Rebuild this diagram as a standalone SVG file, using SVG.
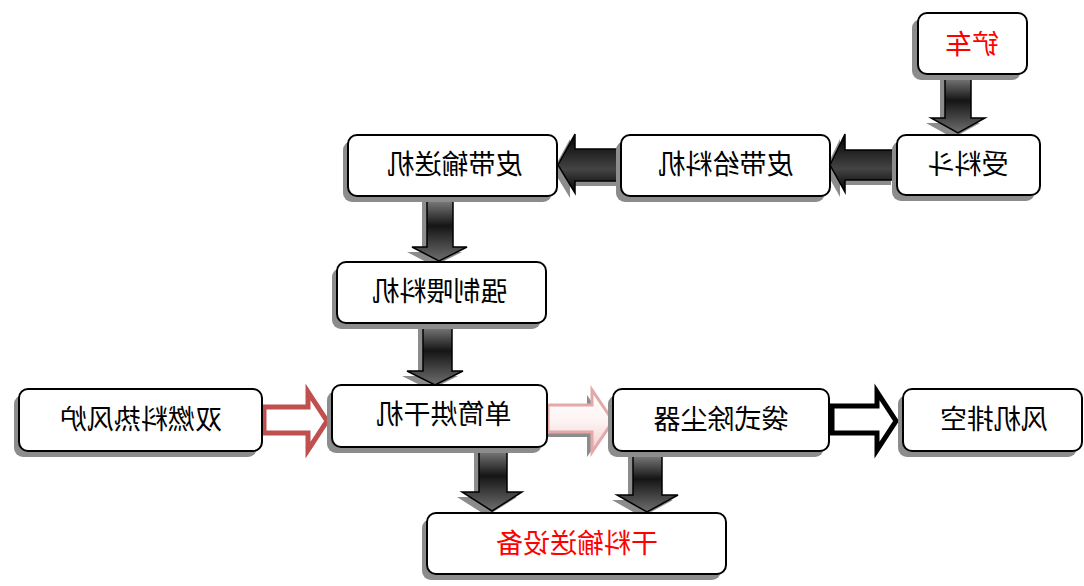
<svg xmlns="http://www.w3.org/2000/svg" width="1084" height="586" viewBox="0 0 1084 586">
<defs>
<linearGradient id="gv" x1="0" y1="0" x2="0" y2="1">
<stop offset="0" stop-color="#8a8a8a"/><stop offset="0.45" stop-color="#151515"/><stop offset="1" stop-color="#6e6e6e"/>
</linearGradient>
<linearGradient id="gh" x1="0" y1="0" x2="0" y2="1">
<stop offset="0" stop-color="#000"/><stop offset="0.6" stop-color="#444"/><stop offset="1" stop-color="#000"/>
</linearGradient>
<linearGradient id="gp" x1="0" y1="0" x2="0" y2="1">
<stop offset="0" stop-color="#fff"/><stop offset="0.5" stop-color="#fdf3f3"/><stop offset="1" stop-color="#f0cccc"/>
</linearGradient>
</defs>
<style>
.sh{fill:#8c8c8c}
.bx{fill:#fff;stroke:#000;stroke-width:2}
.t{font-family:"Noto Sans CJK SC","Noto Sans CJK JP",sans-serif;font-size:27px;text-anchor:middle;fill:#000}
.r{fill:#ff0000}
.av{fill:url(#gv);stroke:#000;stroke-width:1.5}
.ah{fill:url(#gh);stroke:#000;stroke-width:1.5}
</style>
<rect width="1084" height="586" fill="#fff"/>
<g id="connectors">
<path class="sh" d="M940,79 H966 V123 H980 L953,138 L926,123 H940 Z"/>
<path class="sh" d="M422,202 H448 V252 H462 L434,266 L407,252 H422 Z"/>
<path class="sh" d="M418,328 H447 V376 H458 L430,390 L402,376 H418 Z"/>
<path class="sh" d="M474,452 H502 V497 H517 L487,516 L457,497 H474 Z"/>
<path class="sh" d="M628,457 H657 V500 H673 L642,517 L612,500 H628 Z"/>
<path class="sh" d="M891,155 H840 V139 L825,170 L840,197 V185 H891 Z"/>
<path class="sh" d="M617,154 H570 V139 L553,170 L570,198 V186 H617 Z"/>
<path class="sh" d="M543,410 H587 V395 L608,426 L587,457 V437 H543 Z"/>
<path class="av" d="M945,74 H971 V118 H985 L958,133 L931,118 H945 Z"/>
<path class="ah" d="M896,150 H845 V134 L830,165 L845,192 V180 H896 Z"/>
<path class="ah" d="M622,149 H575 V134 L558,165 L575,193 V181 H622 Z"/>
<path class="av" d="M427,197 H453 V247 H467 L439,261 L412,247 H427 Z"/>
<path class="av" d="M423,323 H452 V371 H463 L435,385 L407,371 H423 Z"/>
<path class="av" d="M479,447 H507 V492 H522 L492,511 L462,492 H479 Z"/>
<path class="av" d="M633,452 H662 V495 H678 L647,512 L617,495 H633 Z"/>
<path d="M264,407 H308 V392 L327,421 L308,450 V433 H264 Z" fill="#fff" stroke="#C0504D" stroke-width="5"/>
<path d="M548,405 H592 V390 L613,421 L592,452 V432 H548 Z" fill="url(#gp)" stroke="#E3A9A8" stroke-width="3"/>
<path d="M832,406 H877 V392 L896,421 L877,450 V433 H832 Z" fill="#fff" stroke="#000" stroke-width="5"/>
</g>
<g id="n1">
<rect class="sh" x="912" y="19" width="109" height="61" rx="9"/>
<rect class="bx" x="918" y="13" width="109" height="61" rx="9"/>
<text class="t r" transform="translate(972,45) scale(-1,1)" dy="0.35em">铲车</text>
</g>
<g id="n2">
<rect class="sh" x="892" y="141" width="143" height="60" rx="9"/>
<rect class="bx" x="897" y="135" width="143" height="60" rx="9"/>
<text class="t" transform="translate(968,165) scale(-1,1)" dy="0.35em">受料斗</text>
</g>
<g id="n3">
<rect class="sh" x="616" y="141" width="209" height="61" rx="9"/>
<rect class="bx" x="621" y="135" width="209" height="61" rx="9"/>
<text class="t" transform="translate(726,165) scale(-1,1)" dy="0.35em">皮带给料机</text>
</g>
<g id="n4">
<rect class="sh" x="343" y="141" width="209" height="61" rx="9"/>
<rect class="bx" x="348" y="135" width="209" height="61" rx="9"/>
<text class="t" transform="translate(455,165) scale(-1,1)" dy="0.35em">皮带输送机</text>
</g>
<g id="n5">
<rect class="sh" x="332" y="268" width="209" height="61" rx="9"/>
<rect class="bx" x="337" y="262" width="209" height="61" rx="9"/>
<text class="t" transform="translate(440,292) scale(-1,1)" dy="0.35em">强制喂料机</text>
</g>
<g id="n6">
<rect class="sh" x="327" y="391" width="215" height="62" rx="9"/>
<rect class="bx" x="332" y="385" width="215" height="62" rx="9"/>
<text class="t" transform="translate(444,415) scale(-1,1)" dy="0.35em">单筒烘干机</text>
</g>
<g id="n7">
<rect class="sh" x="14" y="395" width="243" height="62" rx="9"/>
<rect class="bx" x="19" y="389" width="243" height="62" rx="9"/>
<text class="t" transform="translate(141,420) scale(-1,1)" dy="0.35em">双燃料热风炉</text>
</g>
<g id="n8">
<rect class="sh" x="608" y="395" width="216" height="62" rx="9"/>
<rect class="bx" x="613" y="389" width="216" height="62" rx="9"/>
<text class="t" transform="translate(721,420) scale(-1,1)" dy="0.35em">袋式除尘器</text>
</g>
<g id="n9">
<rect class="sh" x="898" y="395" width="179" height="62" rx="9"/>
<rect class="bx" x="903" y="389" width="179" height="62" rx="9"/>
<text class="t" transform="translate(994,420) scale(-1,1)" dy="0.35em">风机排空</text>
</g>
<g id="n10">
<rect class="sh" x="422" y="519" width="299" height="61" rx="9"/>
<rect class="bx" x="427" y="513" width="299" height="61" rx="9"/>
<text class="t r" transform="translate(577,544) scale(-1,1)" dy="0.35em">干料输送设备</text>
</g>
</svg>
